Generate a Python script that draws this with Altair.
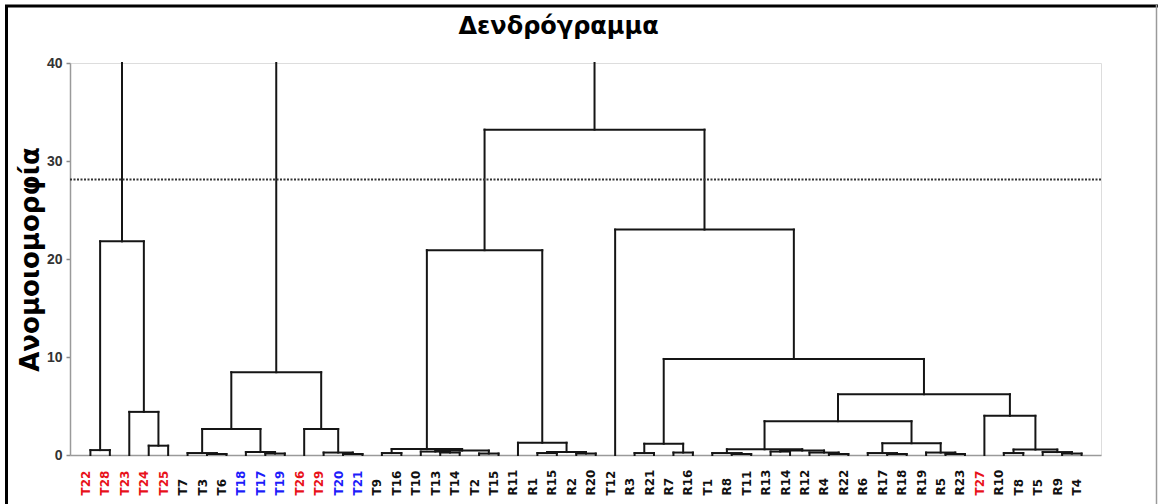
import json
import altair as alt
import pandas as pd

# ---------------- data ----------------
chart_title = "Δενδρόγραμμα"
leaves = ["T22", "T28", "T23", "T24", "T25", "T7", "T3", "T6", "T18", "T17",
          "T19", "T26", "T29", "T20", "T21", "T9", "T16", "T10", "T13", "T14",
          "T2", "T15", "R11", "R1", "R15", "R2", "R20", "T12", "R3", "R21",
          "R7", "R16", "T1", "R8", "T11", "R13", "R14", "R12", "R4", "R22",
          "R6", "R17", "R18", "R19", "R5", "R23", "T27", "R10", "T8", "T5",
          "R9", "T4"]
red_leaves = ["T22", "T28", "T23", "T24", "T25", "T26", "T29", "T27"]
blue_leaves = ["T18", "T17", "T19", "T20", "T21"]

# (cluster name, left child, right child, merge height)
merges = [
    ("a1", "T22", "T28", 0.5), ("a2", "T24", "T25", 0.95),
    ("a3", "T23", "a2", 4.4), ("A", "a1", "a3", 21.8),
    ("b1", "T3", "T6", 0.1), ("b2", "T7", "b1", 0.2),
    ("b3", "T17", "T19", 0.15), ("b4", "T18", "b3", 0.3),
    ("b5", "b2", "b4", 2.65), ("b6", "T20", "T21", 0.1),
    ("b7", "T29", "b6", 0.25), ("b8", "T26", "b7", 2.65),
    ("B", "b5", "b8", 8.45),
    ("c1", "T9", "T16", 0.2), ("c2", "T13", "T14", 0.25),
    ("c3", "T10", "c2", 0.35), ("c4", "T2", "T15", 0.15),
    ("c5", "c3", "c4", 0.45), ("c6", "c1", "c5", 0.6),
    ("c7", "R1", "R15", 0.2), ("c8", "R2", "R20", 0.15),
    ("c9", "c7", "c8", 0.3), ("c10", "R11", "c9", 1.25),
    ("C1", "c6", "c10", 20.9),
    ("c11", "R3", "R21", 0.2), ("c12", "R7", "R16", 0.25),
    ("c13", "c11", "c12", 1.15),
    ("c14", "R8", "T11", 0.1), ("c15", "T1", "c14", 0.2),
    ("c16", "R13", "R14", 0.35), ("c17", "R4", "R22", 0.1),
    ("c18", "R12", "c17", 0.25), ("c19", "c16", "c18", 0.45),
    ("c20", "c15", "c19", 0.58),
    ("c21", "R17", "R18", 0.1), ("c22", "R6", "c21", 0.2),
    ("c23", "R5", "R23", 0.1), ("c24", "R19", "c23", 0.25),
    ("c25", "c22", "c24", 1.2), ("c26", "c20", "c25", 3.45),
    ("c27", "R10", "T8", 0.2), ("c28", "R9", "T4", 0.15),
    ("c29", "T5", "c28", 0.3), ("c30", "c27", "c29", 0.55),
    ("c31", "T27", "c30", 4.0), ("c32", "c26", "c31", 6.2),
    ("c33", "c13", "c32", 9.8), ("c34", "T12", "c33", 23.0),
    ("C", "C1", "c34", 33.2),
]
roots = ["A", "B", "C"]
cut_height = 28.1
y_ticks = [0, 10, 20, 30, 40]
y_max = 40

# ---------------- build segments ----------------
pos = {n: float(i) for i, n in enumerate(leaves)}
hgt = {n: 0.0 for n in leaves}
segs = []
for name, l, r, h in merges:
    segs.append((pos[l], pos[l], hgt[l], h))
    segs.append((pos[r], pos[r], hgt[r], h))
    segs.append((pos[l], pos[r], h, h))
    pos[name] = (pos[l] + pos[r]) / 2
    hgt[name] = h
for rt in roots:
    segs.append((pos[rt], pos[rt], hgt[rt], y_max))
seg_df = pd.DataFrame(segs, columns=["x", "x2", "y", "y2"])

red_idx = [i for i, n in enumerate(leaves) if n in red_leaves]
blue_idx = [i for i, n in enumerate(leaves) if n in blue_leaves]

W, H = 1031, 392
x_scale = alt.Scale(domain=[-1.05, 52.0], nice=False, zero=False)
y_scale = alt.Scale(domain=[0, y_max], nice=False)

x_axis = alt.Axis(
    values=list(range(len(leaves))),
    labelExpr=json.dumps(leaves) + "[datum.value]",
    title=None, ticks=False, tickSize=0, grid=False,
    domainColor="#9a9a9a", domainWidth=1.5,
    labelAngle=270, labelAlign="left", labelBaseline="middle",
    labelPadding=40, labelOffset=-5,
    labelFont="DejaVu Sans", labelFontSize=12, labelFontWeight="bold",
    labelColor={"condition": [
        {"test": f"indexof({red_idx}, datum.value) >= 0", "value": "#e8121a"},
        {"test": f"indexof({blue_idx}, datum.value) >= 0", "value": "#1d1dfa"}],
        "value": "#111111"},
    labelOverlap=False, labelFlush=False, labelBound=False,
)
y_axis = alt.Axis(
    values=y_ticks, grid=False,
    title="Ανομοιομορφία", titleFont="DejaVu Sans", titleFontSize=26,
    titleFontWeight="bold", titleColor="#000000", titleAngle=270,
    titleAlign="center", titleBaseline="alphabetic", titleX=-32, titleY=H / 2,
    domainColor="#9a9a9a", domainWidth=1.5,
    tickColor="#8a8a8a", tickSize=4, tickWidth=1.5,
    labelFont="Liberation Sans", labelFontSize=14, labelFontWeight="bold",
    labelColor="#333333", labelPadding=4,
)

tree = alt.Chart(seg_df).mark_rule(color="#151515", strokeWidth=2, strokeCap="square").encode(
    x=alt.X("x:Q", scale=x_scale, axis=x_axis),
    x2="x2:Q",
    y=alt.Y("y:Q", scale=y_scale, axis=y_axis),
    y2="y2:Q",
)

cut = alt.Chart(pd.DataFrame({"y": [cut_height]})).mark_rule(
    color="#333333", strokeWidth=2, strokeDash=[2, 1.5]
).encode(y=alt.Y("y:Q", scale=y_scale))

frame_df = pd.DataFrame({"k": [0]})
frame_top = alt.Chart(frame_df).mark_rule(color="#000000", strokeWidth=3).encode(
    x=alt.value(-65), x2=alt.value(1090), y=alt.value(-57))
frame_left = alt.Chart(frame_df).mark_rule(color="#000000", strokeWidth=3).encode(
    x=alt.value(-63.5), y=alt.value(-58), y2=alt.value(445))
frame_right = alt.Chart(frame_df).mark_rule(color="#9a9a9a", strokeWidth=1.5).encode(
    x=alt.value(1086.5), y=alt.value(-58), y2=alt.value(445))

title_text = alt.Chart(pd.DataFrame({"t": [chart_title]})).mark_text(
    font="DejaVu Sans", fontSize=24, fontWeight="bold", color="#000000",
    align="center", baseline="alphabetic"
).encode(text="t:N", x=alt.value(W / 2 - 27), y=alt.value(-29))

chart = alt.layer(tree, cut, frame_top, frame_left, frame_right, title_text).properties(
    width=W, height=H,
    autosize=alt.AutoSizeParams(type="none"),
    padding={"left": 70, "top": 63, "right": 57, "bottom": 49},
).configure_view(stroke="#9a9a9a", strokeWidth=1.5).configure(background="#ffffff")

chart.save("out.html", embed_options={"renderer": "svg", "actions": False})
